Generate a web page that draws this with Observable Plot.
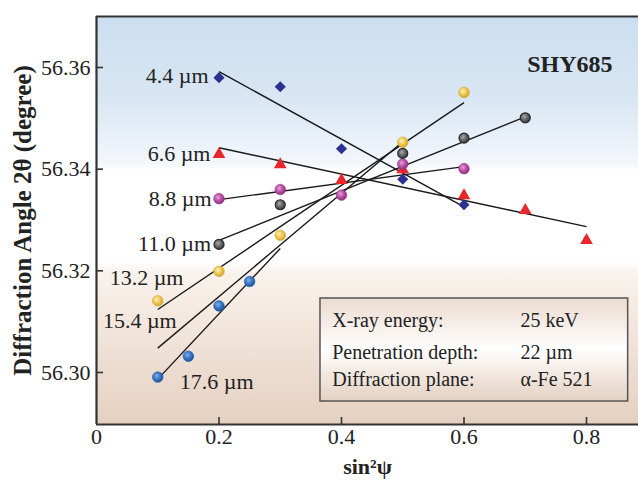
<!DOCTYPE html>
<html><head><meta charset="utf-8">
<script src="https://cdn.jsdelivr.net/npm/d3@7"></script>
<script src="https://cdn.jsdelivr.net/npm/@observablehq/plot@0.6"></script>
<style>body{margin:0;background:#fff;} #chart svg{display:block}</style>
</head><body><div id="chart"></div>
<script>
// ---- axes ----
const xTicks = [0, 0.2, 0.4, 0.6, 0.8];
const yTicks = [56.30, 56.32, 56.34, 56.36];
const xTitle = "sin²ψ";
const yTitle = "Diffraction Angle 2θ (degree)";
const sampleName = "SHY685";

// ---- series (depth below surface) ----
const depthLabels = ["4.4 µm", "6.6 µm", "8.8 µm", "11.0 µm", "13.2 µm", "15.4 µm", "17.6 µm"];

const diamondPsi = [0.2, 0.3, 0.4, 0.5, 0.6];
const diamondAngle = [56.3580, 56.3562, 56.3440, 56.3380, 56.3330];
const trianglePsi = [0.2, 0.3, 0.4, 0.5, 0.6, 0.7, 0.8];
const triangleAngle = [56.3429, 56.3409, 56.3378, 56.3399, 56.3348, 56.3319, 56.3260];
const purplePsi = [0.2, 0.3, 0.4, 0.5, 0.6];
const purpleAngle = [56.3342, 56.3360, 56.3349, 56.3410, 56.3401];
const grayPsi = [0.2, 0.3, 0.5, 0.6, 0.7];
const grayAngle = [56.3252, 56.3330, 56.3431, 56.3461, 56.3501];
const yellowPsi = [0.1, 0.2, 0.3, 0.5, 0.6];
const yellowAngle = [56.3141, 56.3199, 56.3270, 56.3453, 56.3551];
const bluePsi = [0.1, 0.15, 0.2, 0.25];
const blueAngle = [56.2991, 56.3032, 56.3131, 56.3179];

// fitted straight lines, one per depth
const fitPsiStart = [0.2, 0.2, 0.2, 0.2, 0.1, 0.1, 0.1];
const fitAngleStart = [56.3592, 56.3442, 56.3340, 56.3260, 56.3124, 56.3048, 56.2987];
const fitPsiEnd = [0.6, 0.8, 0.6, 0.7, 0.6, 0.5, 0.3];
const fitAngleEnd = [56.3326, 56.3287, 56.3405, 56.3503, 56.3531, 56.3454, 56.3244];

// label anchors (data units)
const labelPsi = [0.183, 0.186, 0.188, 0.187, 0.142, 0.131, 0.136];
const labelAngle = [56.3584, 56.3429, 56.3342, 56.3253, 56.3186, 56.3101, 56.2981];

// info box
const infoKeys = ["X-ray energy:", "Penetration depth:", "Diffraction plane:"];
const infoValues = ["25 keV", "22 µm", "α-Fe 521"];
const infoAngle = [56.3102, 56.3040, 56.2986];
const infoBox = {x1: 0.3657, x2: 0.868, y1: 56.29429, y2: 56.31456};
const infoKeyPsi = 0.3848, infoValuePsi = 0.6922;

const FONT = "'Liberation Serif', 'Times New Roman', serif";
const zip = (xs, ys) => xs.map((x, i) => ({x, y: ys[i]}));
const xDomain = [0, 0.8849];
const yDomain = [56.28977, 56.37003];

const chart = Plot.plot({
  width: 638, height: 485,
  marginLeft: 96, marginRight: 0, marginTop: 16, marginBottom: 61,
  style: {fontFamily: FONT, background: "white"},
  x: {domain: xDomain, axis: null},
  y: {domain: yDomain, axis: null},
  marks: [
    Plot.frame({fill: "url(#bgGrad)", stroke: "none"}),
    // info box
    Plot.rect([infoBox], {x1: "x1", x2: "x2", y1: "y1", y2: "y2", fill: "url(#boxGrad)", stroke: "#555", strokeWidth: 1.5}),
    Plot.text(infoKeys, {x: () => infoKeyPsi, y: (d, i) => infoAngle[i], text: d => d, textAnchor: "start", fontSize: 20, fill: "#222"}),
    Plot.text(infoValues, {x: () => infoValuePsi, y: (d, i) => infoAngle[i], text: d => d, textAnchor: "start", fontSize: 20, fill: "#222"}),
    // fit lines
    Plot.link(depthLabels, {x1: (d, i) => fitPsiStart[i], y1: (d, i) => fitAngleStart[i], x2: (d, i) => fitPsiEnd[i], y2: (d, i) => fitAngleEnd[i], stroke: "#1a1a1a", strokeWidth: 1.4}),
    // markers
    Plot.dot(zip(diamondPsi, diamondAngle), {x: "x", y: "y", symbol: "diamond2", r: 5, fill: "#2d3191", stroke: "none"}),
    Plot.dot(zip(trianglePsi, triangleAngle), {x: "x", y: "y", symbol: "triangle", r: 4.7, fill: "#e8262b", stroke: "none"}),
    Plot.dot(zip(purplePsi, purpleAngle), {x: "x", y: "y", r: 5.3, fill: "url(#gPurple)", stroke: "#9a3588", strokeWidth: 0.6}),
    Plot.dot(zip(grayPsi, grayAngle), {x: "x", y: "y", r: 5, fill: "url(#gGray)", stroke: "#2a2a2a", strokeWidth: 1.2}),
    Plot.dot(zip(yellowPsi, yellowAngle), {x: "x", y: "y", r: 5.3, fill: "url(#gYellow)", stroke: "#d4a82c", strokeWidth: 0.6}),
    Plot.dot(zip(bluePsi, blueAngle), {x: "x", y: "y", r: 5.3, fill: "url(#gBlue)", stroke: "#1f5aa6", strokeWidth: 0.6}),
    // depth labels
    Plot.text(depthLabels.slice(0, 6), {x: (d, i) => labelPsi[i], y: (d, i) => labelAngle[i], text: d => d, textAnchor: "end", fontSize: 22, fill: "#222"}),
    Plot.text(depthLabels.slice(6), {x: (d, i) => labelPsi[6 + i], y: (d, i) => labelAngle[6 + i], text: d => d, textAnchor: "start", fontSize: 22, fill: "#222"}),
    // sample name
    Plot.text([sampleName], {frameAnchor: "top-right", dx: -26, dy: 38, text: d => d, textAnchor: "end", fontSize: 24, fontWeight: "bold", fill: "#222"}),
    // frame lines
    Plot.ruleX([xDomain[0]], {stroke: "#333", strokeWidth: 2.2}),
    Plot.ruleY([yDomain[0], yDomain[1]], {stroke: "#333", strokeWidth: 2.2}),
    // inward ticks
    Plot.tickX(xTicks.slice(1), {x: d => d, insetTop: 401, stroke: "#333", strokeWidth: 1.6}),
    Plot.tickY(yTicks, {y: d => d, insetRight: 535, stroke: "#333", strokeWidth: 1.6}),
    // tick labels
    Plot.text(xTicks, {x: d => d, frameAnchor: "bottom", dy: 19, textAnchor: "middle", text: d => d === 0 ? "0" : d.toFixed(1), fontSize: 22, fill: "#222"}),
    Plot.text(yTicks, {y: d => d, frameAnchor: "left", dx: -6, textAnchor: "end", text: d => d.toFixed(2), fontSize: 22, fill: "#222"}),
    // axis titles
    Plot.text([xTitle], {frameAnchor: "bottom", dy: 49, textAnchor: "middle", text: d => d, fontSize: 22, fontWeight: "bold", fill: "#222"}),
    Plot.text([yTitle], {frameAnchor: "left", dx: -74, rotate: -90, textAnchor: "middle", text: d => d, fontSize: 25, fontWeight: "bold", fill: "#222"})
  ]
});

const svg = d3.select(chart);
const defs = svg.insert("defs", ":first-child");
const bg = defs.append("linearGradient").attr("id", "bgGrad").attr("x1", 0).attr("x2", 0).attr("y1", 0).attr("y2", 1);
[[0, "#cbdef0"], [0.2, "#d9e6f3"], [0.36, "#f3f7fc"], [0.38, "#ffffff"], [0.6, "#ffffff"], [0.63, "#f9f2ec"], [1, "#e5d0c0"]]
  .forEach(([o, c]) => bg.append("stop").attr("offset", o).attr("stop-color", c));
const bx = defs.append("linearGradient").attr("id", "boxGrad").attr("x1", 0).attr("x2", 0).attr("y1", 0).attr("y2", 1);
[[0, "#ecdbcf"], [0.5, "#ffffff"], [1, "#e4d0c1"]]
  .forEach(([o, c]) => bx.append("stop").attr("offset", o).attr("stop-color", c));
function radial(id, light, mid, dark) {
  const g = defs.append("radialGradient").attr("id", id).attr("cx", "40%").attr("cy", "38%").attr("r", "62%");
  g.append("stop").attr("offset", 0).attr("stop-color", light);
  g.append("stop").attr("offset", 0.55).attr("stop-color", mid);
  g.append("stop").attr("offset", 1).attr("stop-color", dark);
}
radial("gPurple", "#e7a3d9", "#b94ea6", "#93307f");
radial("gGray", "#a8a8a8", "#666666", "#3c3c3c");
radial("gYellow", "#fdf0b8", "#ecc852", "#d3a42a");
radial("gBlue", "#7fb0ea", "#3a74c2", "#1d559f");

document.getElementById("chart").appendChild(chart);
</script>
</body></html>
